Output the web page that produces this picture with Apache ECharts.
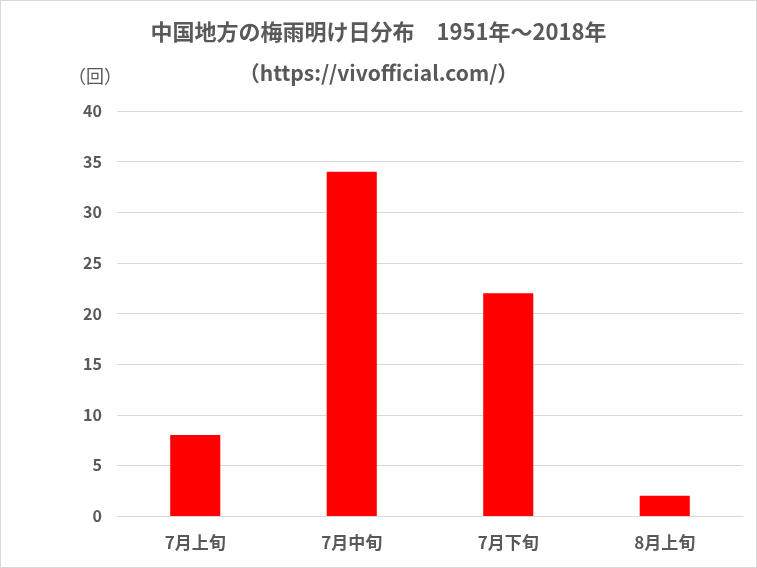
<!DOCTYPE html>
<html>
<head>
<meta charset="utf-8">
<script src="https://cdn.jsdelivr.net/npm/echarts@6/dist/echarts.min.js"></script>
<style>
  html, body { margin: 0; padding: 0; background: #fff; }
  #main { width: 755px; height: 566px; border: 1px solid #d9d9d9; }
</style>
</head>
<body>
<div id="main"></div>
<script>
const categories = ['7月上旬', '7月中旬', '7月下旬', '8月上旬'];
const counts = [8, 34, 22, 2];

const chart = echarts.init(document.getElementById('main'));
const font = '"Noto Sans CJK JP", "Noto Sans", sans-serif';
const textColor = '#595959';

var option = {
  backgroundColor: '#ffffff',
  title: [{
    text: '中国地方の梅雨明け日分布　1951年～2018年',
    left: 'center',
    top: 15,
    textStyle: { fontFamily: font, fontSize: 22, fontWeight: 'bold', color: textColor }
  }, {
    text: '（https://vivofficial.com/）',
    left: 'center',
    top: 57,
    textStyle: { fontFamily: font, fontSize: 21, fontWeight: 'bold', color: textColor }
  }, {
    text: '（回）',
    left: 62,
    top: 61,
    textStyle: { fontFamily: font, fontSize: 18, fontWeight: 'normal', color: textColor }
  }],
  grid: { left: 116, right: 13, top: 110, bottom: 51 },
  xAxis: {
    type: 'category',
    data: categories,
    axisLine: { show: true, lineStyle: { color: '#d9d9d9' } },
    axisTick: { show: false },
    axisLabel: { fontFamily: font, fontSize: 17, fontWeight: 'bold', color: textColor, margin: 18 }
  },
  yAxis: {
    type: 'value',
    min: 0,
    max: 40,
    interval: 5,
    axisLine: { show: false },
    axisTick: { show: false },
    axisLabel: { fontFamily: font, fontSize: 16, fontWeight: 'bold', color: textColor, margin: 15 },
    splitLine: { lineStyle: { color: '#d9d9d9', width: 1 } }
  },
  series: [{
    type: 'bar',
    data: counts,
    barWidth: '32%',
    itemStyle: { color: '#ff0000' }
  }]
};

chart.setOption(option);
</script>
</body>
</html>
